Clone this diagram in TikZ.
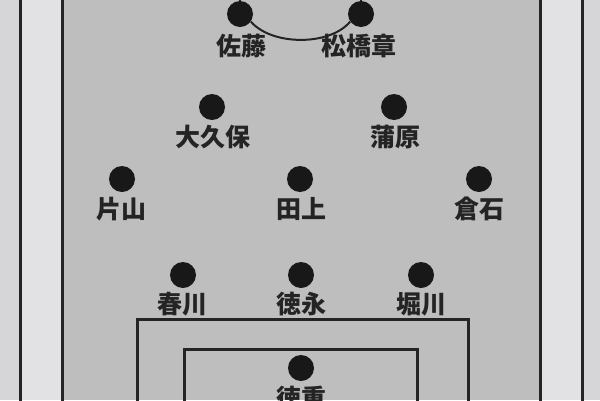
\documentclass[tikz,border=0pt]{standalone}
\usepackage{fontspec}
\newfontfamily\jp{Noto Sans CJK JP}
\definecolor{field}{RGB}{190,190,190}
\definecolor{margin}{RGB}{226,226,228}
\definecolor{strip}{RGB}{214,214,216}
\definecolor{ink}{RGB}{36,36,36}
\definecolor{dotc}{RGB}{24,24,24}
\tikzset{
  player/.style={circle,fill=dotc,minimum size=26pt,inner sep=0pt},
  pname/.style={text=ink,font=\jp\bfseries\fontsize{25}{25}\selectfont,inner sep=0pt},
  fline/.style={draw=ink,line width=3pt},
  conn/.style={draw=ink,line width=2pt}
}
\begin{document}
\begin{tikzpicture}[x=1pt,y=-1pt]
\clip (0,0) rectangle (600,400);
\useasboundingbox (0,0) rectangle (600,400);
% backgrounds
\fill[strip] (0,0) rectangle (20,400);
\fill[margin] (20,0) rectangle (62,400);
\fill[field] (62,0) rectangle (540,400);
\fill[margin] (540,0) rectangle (582,400);
\fill[strip] (582,0) rectangle (600,400);
% field lines
\draw[fline] (20,-5) -- (20,405);
\draw[fline] (62,-5) -- (62,405);
\draw[fline] (540,-5) -- (540,405);
\draw[fline] (582,-5) -- (582,405);
% penalty areas
\draw[fline] (137,410) -- (137,319) -- (468,319) -- (468,410);
\draw[fline] (184,410) -- (184,349) -- (417,349) -- (417,410);
% players
\node[player] (sato) at (240,14) {};
\node[player] (matsu) at (361,14) {};
\node[player] (okubo) at (212,107) {};
\node[player] (kamo) at (394,107) {};
\node[player] (kata) at (122,179) {};
\node[player] (tanoue) at (300,179) {};
\node[player] (kura) at (479,179) {};
\node[player] (haru) at (183,275) {};
\node[player] (toku) at (301,275) {};
\node[player] (hori) at (421,275) {};
\node[player] (gk) at (301,368) {};
% names
\node[pname] (lsato) at (241,46) {佐藤};
\node[pname] (lmatsu) at (359,46) {松橋章};
\node[pname] (lokubo) at (213,137) {大久保};
\node[pname] (lkamo) at (395,137) {蒲原};
\node[pname] (lkata) at (121,209) {片山};
\node[pname] (ltanoue) at (301,209) {田上};
\node[pname] (lkura) at (479,209) {倉石};
\node[pname] (lharu) at (182,304) {春川};
\node[pname] (ltoku) at (301,304) {徳永};
\node[pname] (lhori) at (421,304) {堀川};
\node[pname] (lgk) at (301,398) {徳重};
% connectors
\coordinate (satoup) at (240,-5);
\coordinate (matsuup) at (361,-5);
\draw[conn,line width=1.5pt] (sato) -- (satoup);
\draw[conn,line width=1.5pt] (matsu) -- (matsuup);
\draw[conn] (sato.-35) .. controls (272,46) and (330,46) .. (matsu.-145);
\end{tikzpicture}
\end{document}
